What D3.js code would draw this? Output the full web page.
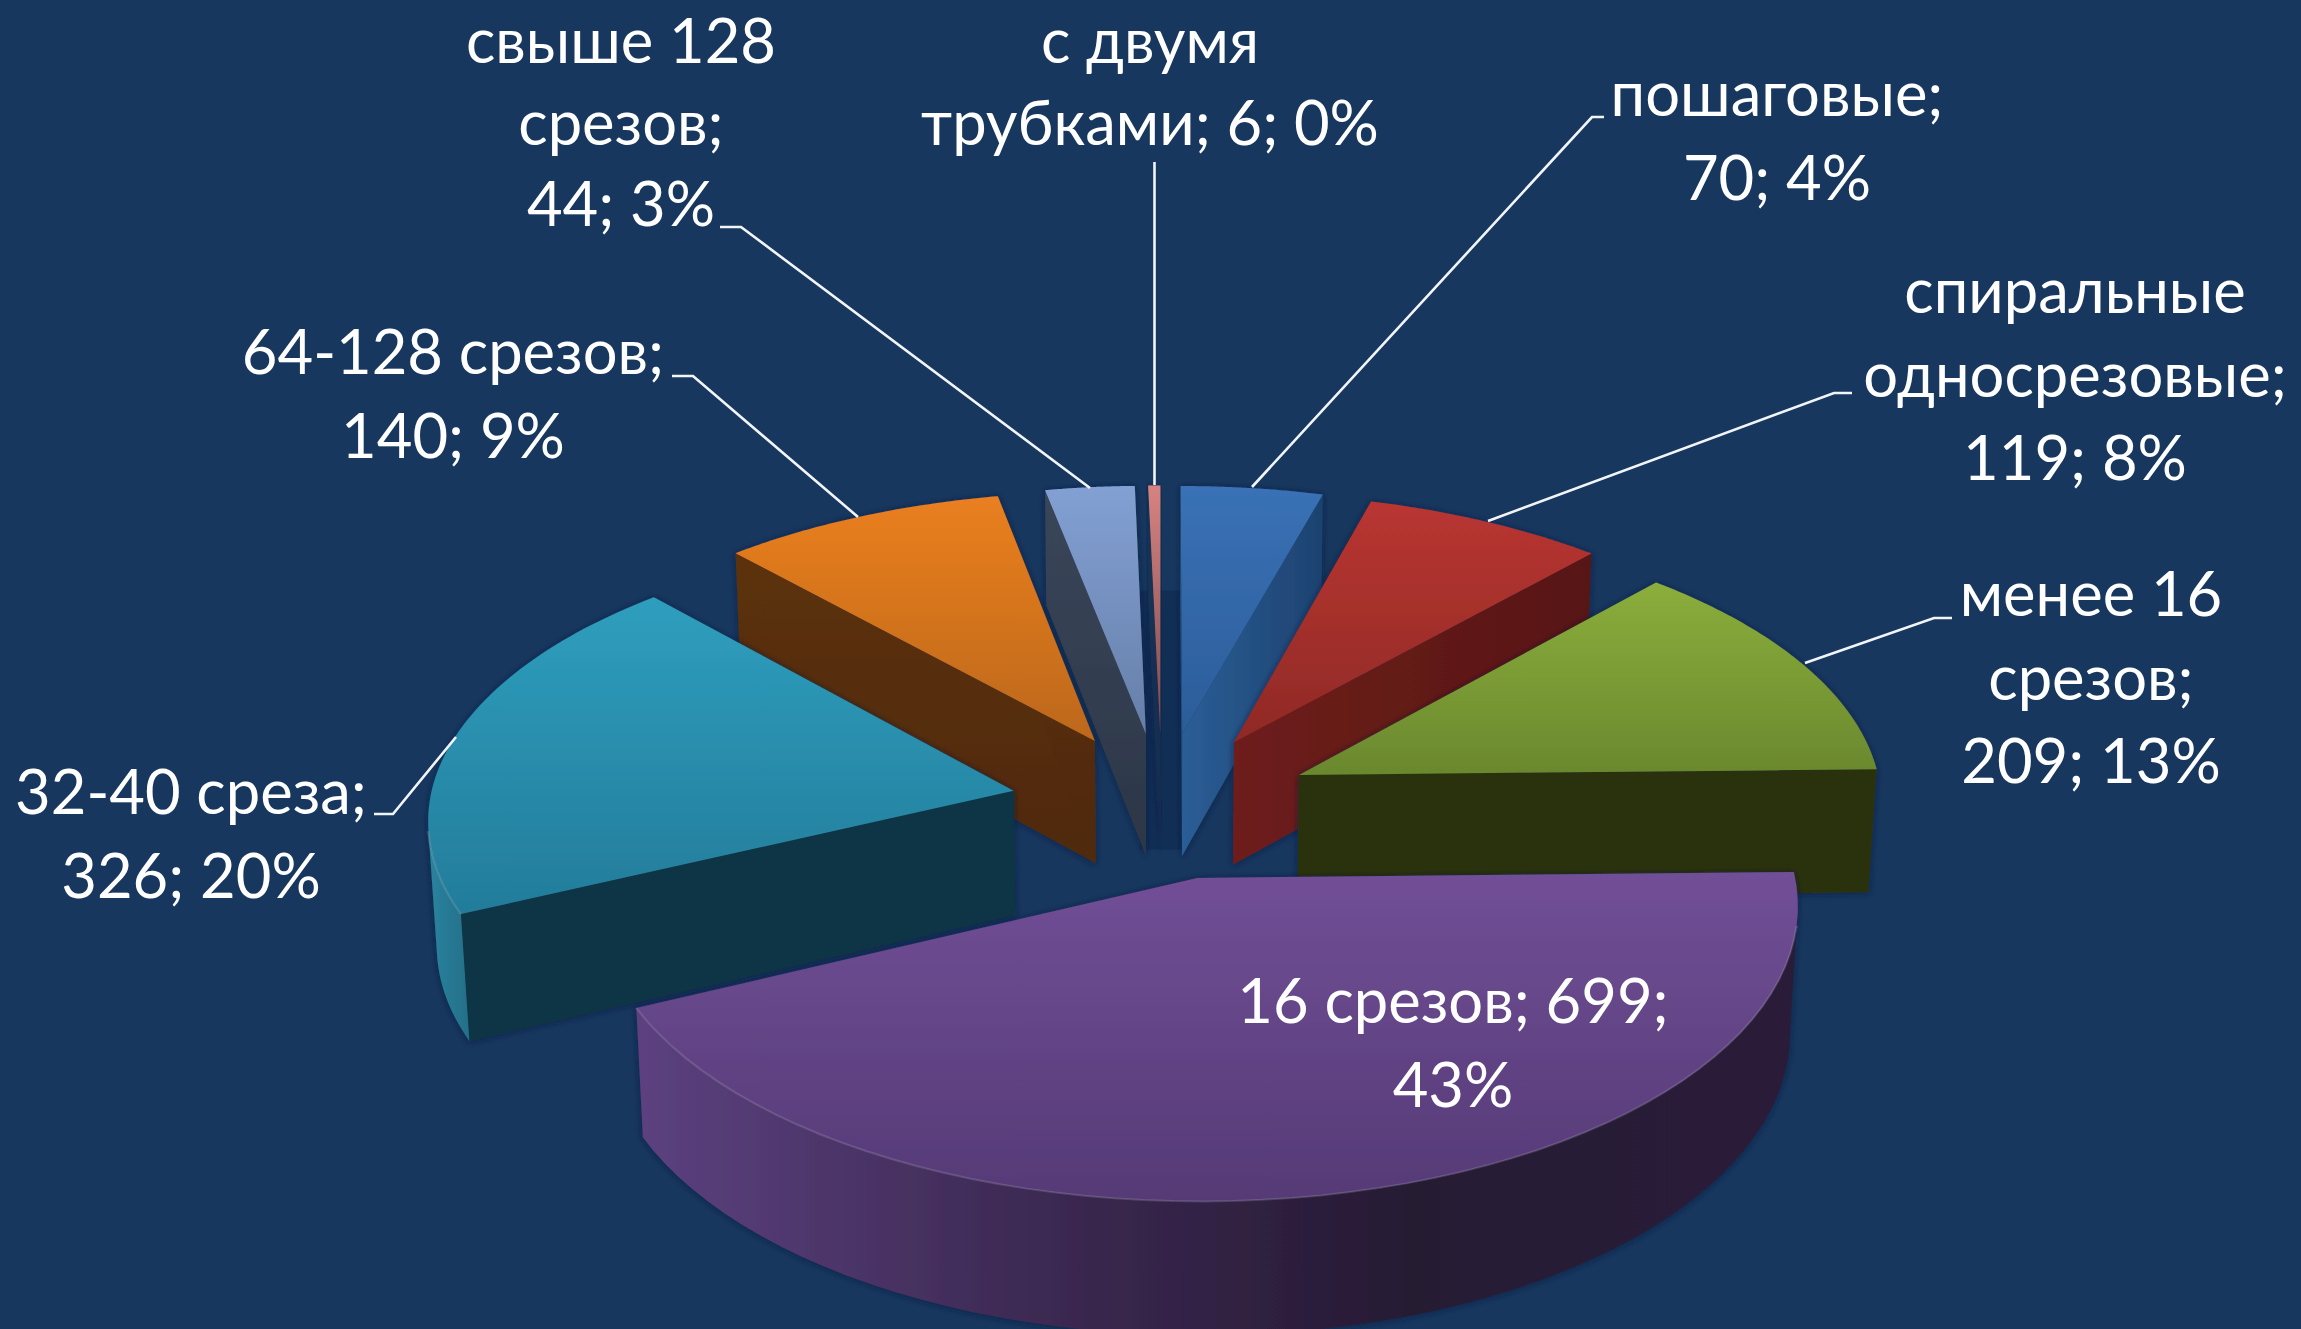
<!DOCTYPE html>
<html><head><meta charset="utf-8">
<script src="https://cdn.jsdelivr.net/npm/d3@7"></script>
<style>html,body{margin:0;padding:0;background:#17375E;overflow:hidden}svg{display:block}</style>
</head><body><script>
const categories=["пошаговые","спиральные односрезовые","менее 16 срезов","16 срезов","32-40 среза","64-128 срезов","свыше 128 срезов","с двумя трубками"];
const values=[70,119,209,699,326,140,44,6];
const percents=[4,8,13,43,20,9,3,0];
const labelLines=[["пошаговые;","70; 4%"],["спиральные","односрезовые;","119; 8%"],["менее 16","срезов;","209; 13%"],["16 срезов; 699;","43%"],["32-40 среза;","326; 20%"],["64-128 срезов;","140; 9%"],["свыше 128","срезов;","44; 3%"],["с двумя","трубками; 6; 0%"]];
const labelAnchors=[[1777,116],[2075,313],[2091,616],[1453,1023],[191,814],[453,374],[621,63],[1150,63]];
const lineSteps=[83.5,83.5,83.5,83.5,83.5,83.5,81.5,81.5];
const leaders=[[[1252,487],[1592,117],[1604,117]],[[1488,521],[1834,393],[1852,393]],[[1805,663],[1934,618],[1952,618]],null,[[456,737],[393,814],[374,814]],[[858,517],[693,376],[672,376]],[[1090,488],[741,227],[720,227]],[[1154.5,162],[1154.5,485]]];
const topColors=[["#3A71B6","#2B5D99"],["#B93531","#8F2A26"],["#8BAE3C","#6A882E"],["#714F97","#553A76"],["#2F9EBE","#237C9A"],["#EA7F20","#BC681A"],["#83A0D4","#667FA8"],["#D68380","#7D4A50"]];
const faceColors=[["#2B5E96","#1D4270"],["#6E1E1B","#571614"],["#2B3311","#2B3311"],["#3A2850","#3A2850"],["#103644","#103644"],["#5C310C","#4F2A08"],["#3A4659","#2C3648"],["#1A3358","#152B4D"]];
const rimColors=[["#2B5E96","#2B5E96"],["#6E1E1B","#6E1E1B"],["#2B3311","#2B3311"],["#5C4180","#3D2A54","#261A33","#2A1C39"],["#2A839F","#246F88"],["#5C310C","#5C310C"],["#3A4659","#3A4659"],["#1A3358","#1A3358"]];

const W=2301,H=1329;
// camera and solid
const cx=1162,cy=805,tilt=28.8*Math.PI/180,dist=10,focal=5845,explode=0.26,depth=0.245;
const sinT=Math.sin(tilt),cosT=Math.cos(tilt);
function project(x,y,h){const zv=y*cosT-h*sinT,yv=y*sinT+h*cosT,k=focal/(dist+zv);return [cx+k*x,cy-k*yv];}
const pie=d3.pie().sort(null).startAngle(0).endAngle(2*Math.PI);
const arcs=pie(values);
const line=d3.line();
const svg=d3.select("body").append("svg").attr("width",W).attr("height",H).attr("viewBox",`0 0 ${W} ${H}`);
svg.append("rect").attr("width",W).attr("height",H).attr("fill","#17375E");
const defs=svg.append("defs");
function grad(id,c,horizontal){const g=defs.append("linearGradient").attr("id",id).attr("x1",0).attr("y1",0).attr("x2",horizontal?1:0).attr("y2",horizontal?0:1);
 c.forEach((col,k)=>g.append("stop").attr("offset",k/(c.length-1)).attr("stop-color",col));}
const f=defs.append("filter").attr("id","soft").attr("x","-10%").attr("y","-10%").attr("width","120%").attr("height","120%");
f.append("feDropShadow").attr("dx",0).attr("dy",1).attr("stdDeviation",3).attr("flood-color","#0A1F3E").attr("flood-opacity",0.75);
const blur=defs.append("filter").attr("id","txt");blur.append("feGaussianBlur").attr("stdDeviation",0.6);

const mids=arcs.map(a=>(a.startAngle+a.endAngle)/2);
const off=mids.map(m=>[explode*Math.sin(m),explode*Math.cos(m)]);
const pt=(i,t,r,h)=>project(off[i][0]+r*Math.sin(t),off[i][1]+r*Math.cos(t),h);
// draw back to front
const paint=[7,6,0,5,1,2,4,3];

// dark band behind the narrowest slice
const bandTop=pt(7,2*Math.PI,1,-depth)[1]-10,bandBot=pt(7,2*Math.PI,0,-depth)[1]-6;
const bandL=pt(6,0,0,0)[0]-6,bandR=pt(0,0,0,0)[0];
svg.append("rect").attr("x",bandL).attr("y",bandTop).attr("width",bandR-bandL).attr("height",bandBot-bandTop).attr("fill","#112E55");

paint.forEach(i=>{
 const a=arcs[i];
 grad("top"+i,topColors[i]);grad("face"+i,faceColors[i],i==0||i==1||i==4);grad("rim"+i,rimColors[i],true);
 const g=svg.append("g").attr("filter","url(#soft)");
 const ts=d3.range(0,61).map(k=>a.startAngle+(a.endAngle-a.startAngle)*k/60);
 [a.startAngle,a.endAngle].forEach(t=>{
  g.append("path").attr("fill",`url(#face${i})`).attr("d",line([pt(i,t,0,0),pt(i,t,1,0),pt(i,t,1,-depth),pt(i,t,0,-depth)])+"Z");
 });
 const facing=ts.filter(t=>{const x=off[i][0]+Math.sin(t),y=off[i][1]+Math.cos(t);
  return -x*Math.sin(t)-(dist*cosT+y)*Math.cos(t)>0;});
 if(facing.length>1){
  const upper=facing.map(t=>pt(i,t,1,0)),lower=facing.map(t=>pt(i,t,1,-depth)).reverse();
  g.append("path").attr("fill",`url(#rim${i})`).attr("d",line(upper.concat(lower))+"Z");
 }
 const top=[pt(i,a.startAngle,0,0)].concat(ts.map(t=>pt(i,t,1,0)));
 g.append("path").attr("fill",`url(#top${i})`).attr("d",line(top)+"Z");
 if(facing.length>1){
  g.append("path").attr("fill","none").attr("stroke","#fff").attr("stroke-opacity",0.14).attr("stroke-width",2).attr("d",line(facing.map(t=>pt(i,t,1,0))));
 }
});

const lg=svg.append("g").attr("fill","none").attr("stroke","#F2F5F8").attr("stroke-width",2.6);
leaders.forEach(l=>{if(l)lg.append("path").attr("d",line(l));});
const tg=svg.append("g").attr("filter","url(#txt)").attr("fill","#fff").attr("text-anchor","middle")
 .style("font-family","Lato,'Open Sans','Noto Sans',sans-serif").style("font-size","61.5px");
labelLines.forEach((ls,i)=>{ls.forEach((s,k)=>{
 tg.append("text").attr("x",labelAnchors[i][0]).attr("y",labelAnchors[i][1]+k*lineSteps[i]).text(s);
});});
</script></body></html>
